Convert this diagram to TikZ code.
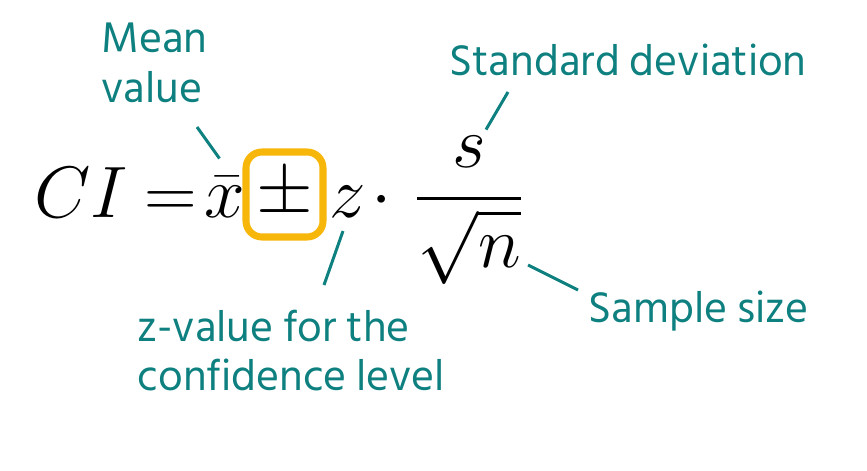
\documentclass[tikz,border=0pt]{standalone}
\usepackage{fontspec}
\setsansfont{Hind Siliguri}
\usepackage{amsmath}
\usetikzlibrary{positioning,calc}
\definecolor{tealtext}{HTML}{0E8080}
\definecolor{boxgold}{HTML}{F6B70A}
\tikzset{lbl/.style={text=tealtext,font=\sffamily\fontsize{12.5}{13.8}\selectfont,inner sep=0pt,align=left},
  lead/.style={draw=tealtext,line width=0.85pt},
  eq/.style={inner sep=0pt,font=\fontsize{20.5}{25}\selectfont}}
\begin{document}
\begin{tikzpicture}
\tikzstyle{pmbox}=[draw=boxgold,line width=2pt,rounded corners=1.6mm,minimum width=0.77cm,minimum height=0.85cm,inner sep=0pt]
\useasboundingbox (0,0) rectangle (8.67,4.70);

   \path (0.34,2.53) node[eq,anchor=base west] (lhs) {$CI\mskip-1mu = \mskip-3mu\bar{x}$}
     (2.845,2.755) node[eq,pmbox] (pm) {$\pm$}
     (3.29,2.53) node[eq,anchor=base west] (z) {$z$}
     (3.82,2.53) node[eq,anchor=base] (dot) {$\cdot$}
     (4.69,2.53) node[eq,anchor=base] (frac) {$\dfrac{s}{\sqrt{n}}$};

   \node[lbl,anchor=base west,font=\sffamily\fontsize{12.5}{14.2}\selectfont] (mean) at (1.01,3.68) {Mean\\value};
   \node[lbl,anchor=base west] (sd) at (4.49,3.95) {Standard deviation};
   \node[lbl,anchor=base west] (size) at (5.88,1.48) {Sample size};
   \node[lbl,anchor=base west] (zval) at (1.37,0.80) {z-value for the\\confidence level};

   \draw[lead] ([shift={(0.96,-0.25)}]mean.base west) -- ([shift={(-0.23,-0.10)}]pm.north west);
   \draw[lead] ([shift={(0.59,-0.17)}]sd.base west) -- ([shift={(0.17,0.06)}]frac.north);
   \draw[lead] ([shift={(0.14,-0.14)}]z.base west) -- ([shift={(1.87,1.05)}]zval.base west);
   \draw[lead] ([shift={(0.59,-0.48)}]frac.base) -- ([shift={(-0.10,0.32)}]size.base west);
\end{tikzpicture}
\end{document}
